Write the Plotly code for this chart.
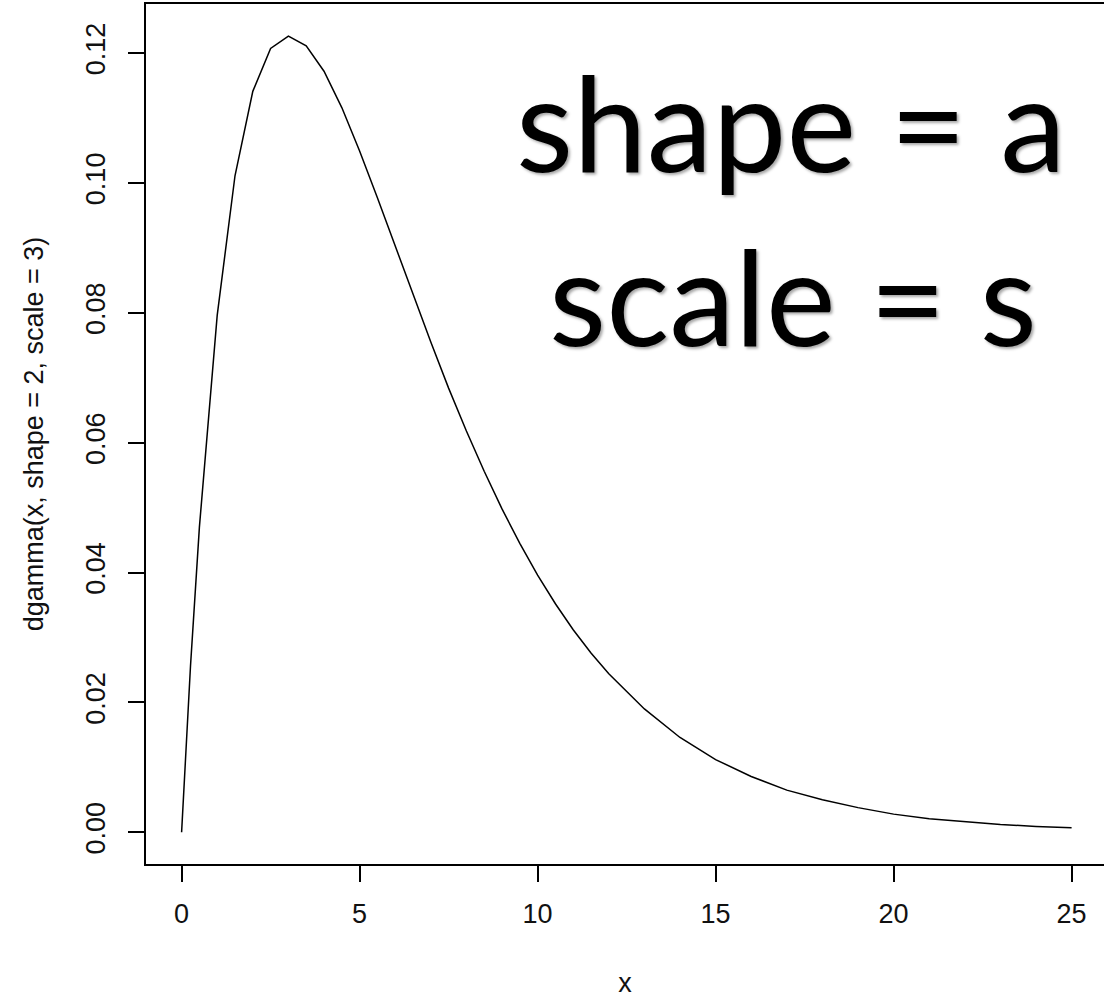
import plotly.graph_objects as go

# values
x_vals = [0, 0.25, 0.5, 1, 1.5, 2, 2.5, 3, 3.5, 4, 4.5, 5, 5.5, 6, 6.5, 7, 7.5, 8, 8.5,
          9, 9.5, 10, 10.5, 11, 11.5, 12, 13, 14, 15, 16, 17, 18, 19, 20, 21, 22, 23, 24, 25]
y_vals = [0.0, 0.0256, 0.0470, 0.0796, 0.1011, 0.1141, 0.1207, 0.1226, 0.1211, 0.1172,
          0.1116, 0.1049, 0.0977, 0.0902, 0.0827, 0.0755, 0.0684, 0.0618, 0.0556,
          0.0498, 0.0445, 0.0396, 0.0352, 0.0312, 0.0276, 0.0244, 0.0190, 0.0146,
          0.0112, 0.0086, 0.0065, 0.0050, 0.0038, 0.0028, 0.0021, 0.0016, 0.0012,
          0.0009, 0.0007]

x_ticks = [0, 5, 10, 15, 20, 25]
y_ticks = [0.00, 0.02, 0.04, 0.06, 0.08, 0.10, 0.12]
y_tick_labels = ["0.00", "0.02", "0.04", "0.06", "0.08", "0.10", "0.12"]

x_title = "x"
y_title = "dgamma(x, shape = 2, scale = 3)"
overlay_lines = ["shape = a", "scale = s"]

axis_font = dict(family="Liberation Sans, Arial, sans-serif", size=27, color="#111")

fig = go.Figure()
fig.add_trace(go.Scatter(x=x_vals, y=y_vals, mode="lines",
                         line=dict(color="black", width=1.5), hoverinfo="skip"))

fig.update_layout(
    width=1104, height=998,
    margin=dict(l=146, r=0, t=4, b=134),
    paper_bgcolor="white", plot_bgcolor="white",
    showlegend=False,
    xaxis=dict(range=[-1, 25.91], tickmode="array", tickvals=x_ticks,
               ticks="outside", ticklen=16, tickwidth=1.5, tickcolor="black",
               ticklabelstandoff=9,
               showline=True, mirror=True, linecolor="black", linewidth=2,
               showgrid=False, zeroline=False, tickfont=axis_font,
               title=dict(text=x_title, font=axis_font, standoff=46)),
    yaxis=dict(range=[-0.00488, 0.12755], tickmode="array", tickvals=y_ticks,
               ticktext=y_tick_labels, tickangle=-90,
               ticks="outside", ticklen=16, tickwidth=1.5, tickcolor="black",
               ticklabelstandoff=12,
               showline=True, mirror=False, linecolor="black", linewidth=2,
               showgrid=False, zeroline=False, tickfont=axis_font,
               title=dict(text=y_title, font=axis_font, standoff=30)),
)

big_font = dict(family="Lato, Open Sans, sans-serif", size=132, color="black",
                shadow="2px 2px 3px rgba(0,0,0,0.35)")
fig.add_annotation(text=overlay_lines[0], xref="paper", yref="paper",
                   x=(791 - 146) / 958, y=1 - (121 - 4) / 860,
                   xanchor="center", yanchor="middle", showarrow=False, font=big_font)
fig.add_annotation(text=overlay_lines[1], xref="paper", yref="paper",
                   x=(793 - 146) / 958, y=1 - (295 - 4) / 860,
                   xanchor="center", yanchor="middle", showarrow=False, font=big_font)

fig.write_html("out.html")
